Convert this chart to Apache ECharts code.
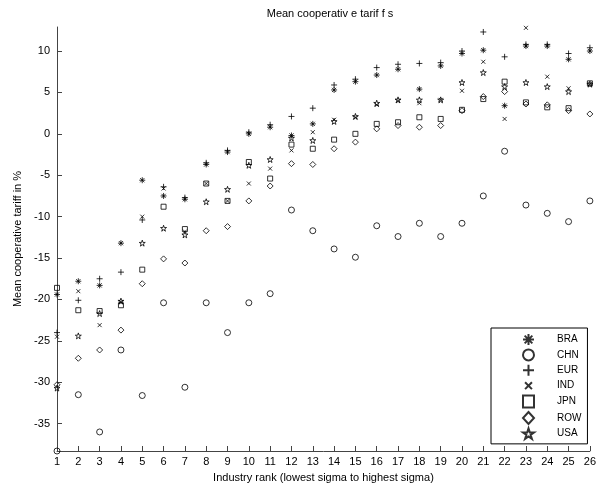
<!DOCTYPE html>
<html>
<head>
<meta charset="utf-8">
<script src="https://cdn.jsdelivr.net/npm/echarts@6/dist/echarts.min.js"></script>
<style>
  html, body { margin: 0; padding: 0; background: #fff; }
  #chart { width: 599px; height: 489px; }
</style>
</head>
<body>
<div id="chart"></div>
<script>
// industry rank 1..26
const ranks = [1, 2, 3, 4, 5, 6, 7, 8, 9, 10, 11, 12, 13, 14, 15, 16, 17, 18, 19, 20, 21, 22, 23, 24, 25, 26]
const yTicks = [-35, -30, -25, -20, -15, -10, -5, 0, 5, 10]

// mean cooperative tariff (%) per region
const BRA = [-19.4, -17.8, -18.3, -13.2, -5.6, -7.5, -7.9, -3.7, -2.2, 0.0, 0.8, -0.2, 1.2, 5.3, 6.3, 7.1, 7.8, 5.4, 8.2, 9.7, 10.1, 3.4, 10.6, 10.6, 9.0, 10.0]
const CHN = [-38.3, -31.5, -36.0, -26.1, -31.6, -20.4, -30.6, -20.4, -24.0, -20.4, -19.3, -9.2, -11.7, -13.9, -14.9, -11.1, -12.4, -10.8, -12.4, -10.8, -7.5, -2.1, -8.6, -9.6, -10.6, -8.1]
const EUR = [-24.0, -20.1, -17.5, -16.7, -10.4, -6.4, -7.7, -3.5, -2.0, 0.2, 1.1, 2.1, 3.1, 5.9, 6.6, 8.0, 8.4, 8.5, 8.6, 10.0, 12.3, 9.3, 10.8, 10.8, 9.7, 10.4]
const IND = [-24.5, -19.0, -23.1, -20.3, -10.0, -6.6, -11.8, -6.0, -8.1, -6.0, -4.2, -2.0, 0.2, 1.7, 2.0, 3.5, 4.0, 3.7, 4.1, 5.2, 8.7, 1.8, 12.8, 6.9, 5.5, 6.0]
const JPN = [-18.6, -21.3, -21.4, -20.7, -16.4, -8.8, -11.5, -6.0, -8.1, -3.4, -5.4, -1.3, -1.8, -0.7, 0.0, 1.2, 1.4, 2.0, 1.8, 2.9, 4.2, 6.3, 3.8, 3.2, 3.1, 6.1]
const ROW = [-30.3, -27.1, -26.1, -23.7, -18.1, -15.1, -15.6, -11.7, -11.2, -8.1, -6.3, -3.6, -3.7, -1.8, -1.0, 0.6, 1.0, 0.8, 1.0, 2.8, 4.5, 5.1, 3.6, 3.5, 2.8, 2.4]
const USA = [-30.7, -24.4, -21.7, -20.2, -13.2, -11.4, -12.2, -8.2, -6.7, -3.8, -3.1, -0.5, -0.8, 1.5, 2.1, 3.7, 4.1, 4.1, 4.1, 6.2, 7.4, 5.7, 6.2, 5.7, 5.1, 6.0]

// marker shapes (matlab-like)
const ASTERISK = 'path://M0,-1L0,1M-1,0L1,0M-0.7,-0.7L0.7,0.7M-0.7,0.7L0.7,-0.7'
const PLUS = 'path://M0,-1L0,1M-1,0L1,0'
const CROSS = 'path://M-1,-1L1,1M-1,1L1,-1'
// same cross, padded so the legend icon comes out smaller
const CROSS_SMALL = 'path://M-1.6,-1.6L-1.6,-1.6M-1,-1L1,1M-1,1L1,-1M1.6,1.6L1.6,1.6'
const STAR = 'path://M0,-1L0.2245,-0.309L0.951,-0.309L0.363,0.118L0.588,0.809L0,0.382L-0.588,0.809L-0.363,0.118L-0.951,-0.309L-0.2245,-0.309Z'

const FONT = '"Liberation Sans", Arial, sans-serif'

const regions = [
  { name: 'BRA', values: BRA, symbol: ASTERISK, size: 6 },
  { name: 'CHN', values: CHN, symbol: 'circle', size: 6 },
  { name: 'EUR', values: EUR, symbol: PLUS, size: 6 },
  { name: 'IND', values: IND, symbol: CROSS, size: 4, icon: CROSS_SMALL },
  { name: 'JPN', values: JPN, symbol: 'rect', size: 5 },
  { name: 'ROW', values: ROW, symbol: 'diamond', size: 6 },
  { name: 'USA', values: USA, symbol: STAR, size: 6 },
]

const series = regions.map((r) => ({
  name: r.name,
  type: 'scatter',
  symbol: r.symbol,
  symbolSize: r.size,
  data: ranks.map((x, i) => [x, r.values[i]]),
  itemStyle: { color: 'transparent', borderColor: '#000', borderWidth: 1 },
  emphasis: { disabled: true },
}))

const chart = echarts.init(document.getElementById('chart'), null, { renderer: 'canvas' })

chart.setOption({
  animation: false,
  backgroundColor: '#fff',
  title: {
    text: 'Mean cooperativ e tarif f s',
    left: 325,
    top: 3,
    textAlign: 'center',
    textStyle: { fontFamily: FONT, fontSize: 11, fontWeight: 'normal', color: '#000' },
  },
  grid: { left: 57, right: 6, top: 27, bottom: 38 },
  legend: {
    orient: 'vertical',
    left: 491,
    top: 328,
    padding: [5, 6, 4, 31],
    itemWidth: 11,
    itemHeight: 12,
    itemGap: 2.4,
    borderColor: '#000',
    borderWidth: 1,
    backgroundColor: '#fff',
    selectedMode: false,
    textStyle: { fontFamily: FONT, fontSize: 10, color: '#000', padding: [0, 0, 0, 18] },
    data: regions.map((r) => (r.icon ? { name: r.name, icon: r.icon } : r.name)),
  },
  xAxis: {
    type: 'value',
    min: 1,
    max: 26,
    interval: 1,
    name: 'Industry rank (lowest sigma to highest sigma)',
    nameLocation: 'middle',
    nameGap: 21,
    nameTextStyle: { fontFamily: FONT, fontSize: 11, color: '#000' },
    axisLine: { onZero: false, lineStyle: { color: '#444', width: 1 } },
    axisTick: { inside: true, length: 5, lineStyle: { color: '#444' } },
    axisLabel: { fontFamily: FONT, fontSize: 11, color: '#000', margin: 5 },
    splitLine: { show: false },
  },
  yAxis: {
    type: 'value',
    min: -38.3,
    max: 12.9,
    name: 'Mean cooperative tariff in %',
    nameLocation: 'middle',
    nameGap: 33,
    nameTextStyle: { fontFamily: FONT, fontSize: 11, color: '#000' },
    axisLine: { show: true, onZero: false, lineStyle: { color: '#444', width: 1 } },
    axisTick: { show: true, inside: true, length: 5, customValues: yTicks, lineStyle: { color: '#444' } },
    axisLabel: { fontFamily: FONT, fontSize: 11, color: '#000', margin: 7, customValues: yTicks },
    splitLine: { show: false },
  },
  series,
})
</script>
</body>
</html>
